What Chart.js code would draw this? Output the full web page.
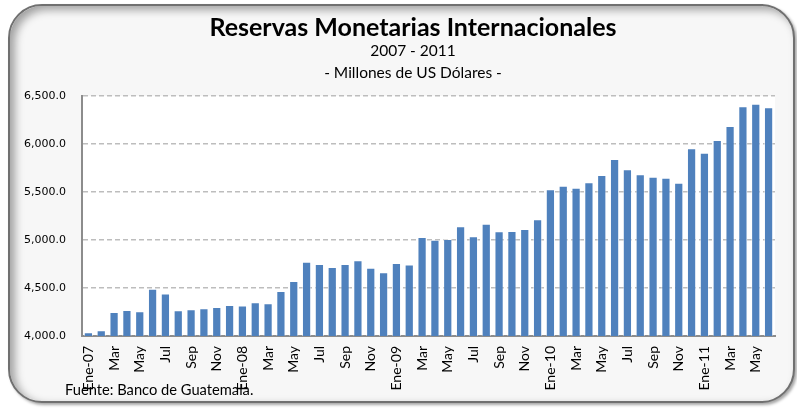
<!DOCTYPE html>
<html>
<head>
<meta charset="utf-8">
<script src="https://cdn.jsdelivr.net/npm/chart.js"></script>
<style>
    html, body { margin: 0; padding: 0; background: #fff; }
    #wrap { position: relative; width: 797px; height: 408px; overflow: hidden; }
    #frame {
        position: absolute; left: 8px; top: 4px; width: 787px; height: 399px;
        box-sizing: border-box; border: 2px solid #707070; border-radius: 34px;
        background: #f7f7f7;
        box-shadow: inset 5px 4px 8px rgba(0,0,0,0.35), 2px 2px 3px rgba(0,0,0,0.35);
    }
    canvas { position: absolute; left: 0; top: 0; }
    .txt { position: absolute; left: 0; width: 826px; text-align: center; font-family: Lato, "Open Sans", sans-serif; color: #000; white-space: nowrap; }
    #title { top: 11px; font-size: 25px; font-weight: bold; }
    #sub1 { top: 41px; font-size: 15.5px; }
    #sub2 { top: 63px; font-size: 15.5px; }
    #src { position: absolute; left: 65px; top: 380px; font-family: Lato, "Open Sans", sans-serif; font-size: 14.7px; color: #000; }
</style>
</head>
<body>
<div id="wrap">
    <div id="frame"></div>
    <canvas id="chart" width="797" height="408"></canvas>
    <div class="txt" id="title">Reservas Monetarias Internacionales</div>
    <div class="txt" id="sub1">2007 - 2011</div>
    <div class="txt" id="sub2">- Millones de US Dólares -</div>
    <div id="src">Fuente: Banco de Guatemala.</div>
</div>
<script>
"use strict"

// Meses (Ene-07 a Jun-11)
const months = [
    "Ene-07", "Feb", "Mar", "Abr", "May", "Jun", "Jul", "Ago", "Sep", "Oct", "Nov", "Dic",
    "Ene-08", "Feb", "Mar", "Abr", "May", "Jun", "Jul", "Ago", "Sep", "Oct", "Nov", "Dic",
    "Ene-09", "Feb", "Mar", "Abr", "May", "Jun", "Jul", "Ago", "Sep", "Oct", "Nov", "Dic",
    "Ene-10", "Feb", "Mar", "Abr", "May", "Jun", "Jul", "Ago", "Sep", "Oct", "Nov", "Dic",
    "Ene-11", "Feb", "Mar", "Abr", "May", "Jun"
];

// Reservas en millones de US$
const reservas = [
    4038, 4059, 4250, 4271, 4257, 4493, 4444, 4267, 4278, 4288, 4302, 4323,
    4319, 4351, 4340, 4469, 4573, 4774, 4750, 4719, 4750, 4788, 4712, 4663,
    4760, 4746, 5031, 5003, 5010, 5142, 5038, 5170, 5090, 5094, 5115, 5215,
    5528, 5566, 5545, 5601, 5677, 5844, 5736, 5684, 5660, 5649, 5597, 5955,
    5910, 6042, 6188, 6393, 6420, 6382
];

const yMin = 4000;
const yMax = 6500;
const yStep = 500;

// Fondo blanco del área del gráfico
const plotBg = {
    id: "plotBg",
    beforeDraw(chart) {
        const { ctx, chartArea: a } = chart;
        ctx.save();
        ctx.fillStyle = "#ffffff";
        ctx.fillRect(a.left, a.top, a.right - a.left, a.bottom - a.top);
        ctx.restore();
    }
};

const ctx = document.getElementById("chart").getContext("2d");
new Chart(ctx, {
    type: "bar",
    data: {
        labels: months,
        datasets: [{
            data: reservas,
            backgroundColor: "#4f81bd",
            borderColor: "rgba(255,255,255,0.5)",
            borderWidth: 1,
            barPercentage: 0.72,
            categoryPercentage: 1
        }]
    },
    options: {
        responsive: false,
        animation: false,
        layout: { padding: { left: 0, right: 22, top: 96, bottom: 0 } },
        plugins: {
            legend: { display: false },
            tooltip: { enabled: false }
        },
        scales: {
            x: {
                offset: true,
                afterFit: s => { s.height = 72; },
                grid: { display: false, drawTicks: false },
                border: { display: true, color: "#8c8c8c", width: 2 },
                ticks: {
                    autoSkip: false,
                    minRotation: 90,
                    maxRotation: 90,
                    padding: 10,
                    color: "#000",
                    font: { family: "Lato", size: 14 },
                    callback: function (v, i) { return i % 2 === 0 ? months[i] : ""; }
                }
            },
            y: {
                min: yMin,
                max: yMax,
                afterFit: s => { s.width = 82; },
                grid: {
                    color: ctx => ctx.tick && ctx.tick.value === yMin ? "rgba(0,0,0,0)" : "#bdbdbd",
                    lineWidth: 1.5,
                    drawTicks: false
                },
                border: { display: true, color: "#8c8c8c", width: 2, dash: [5, 3] },
                ticks: {
                    stepSize: yStep,
                    padding: 16,
                    color: "#000",
                    font: { family: "DejaVu Sans", size: 11 },
                    callback: v => v.toLocaleString("en-US", { minimumFractionDigits: 1, maximumFractionDigits: 1 })
                }
            }
        }
    },
    plugins: [plotBg]
});
</script>
</body>
</html>
